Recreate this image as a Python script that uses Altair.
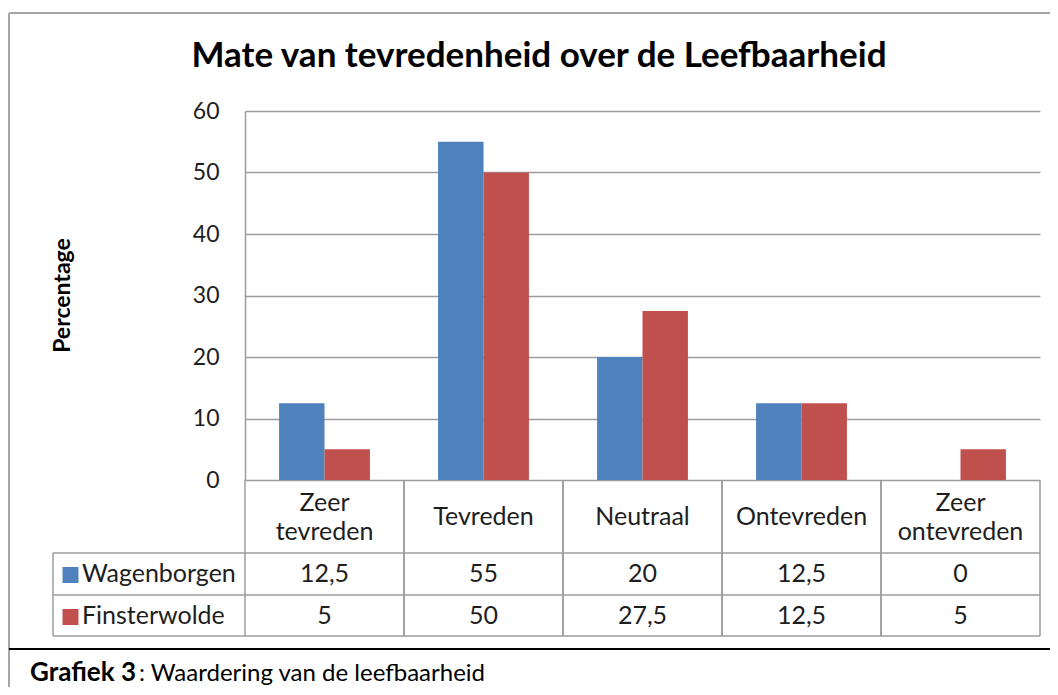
import altair as alt
import pandas as pd

# ---------------- data ----------------
categories = ["Zeer tevreden", "Tevreden", "Neutraal", "Ontevreden", "Zeer ontevreden"]
category_labels = ["Zeer\ntevreden", "Tevreden", "Neutraal", "Ontevreden", "Zeer\nontevreden"]
series = ["Wagenborgen", "Finsterwolde"]
wagenborgen = [12.5, 55, 20, 12.5, 0]
finsterwolde = [5, 50, 27.5, 12.5, 5]
colors = ["#4F81BD", "#C0504D"]
y_ticks = [0, 10, 20, 30, 40, 50, 60]

title_text = "Mate van tevredenheid over de Leefbaarheid"
y_title = "Percentage"
caption_bold = "Grafiek 3"
caption_rest = ": Waardering van de leefbaarheid"

# ---------------- layout (pixels, relative to plot origin) ----------------
W, H = 795, 369
FONT = "Lato"
GRID = "#9C9C9C"
TXT = "#1e1e1e"
TFS = 25                      # table font size
ROW_TOP = [442, 484]          # top of each series row
ROW_Y = [463, 505]            # centers of the series rows
TABLE_BOTTOM = 525
LEG_LEFT = -192
CAT_Y = 406
LINE_H = 29

values_by_series = {"Wagenborgen": wagenborgen, "Finsterwolde": finsterwolde}
rows = []
for s in series:
    for c, v in zip(categories, values_by_series[s]):
        rows.append({"cat": c, "series": s, "value": v})
df = pd.DataFrame(rows)
df_cat = pd.DataFrame({"cat": categories, "label": category_labels})
df_cat["two"] = df_cat["label"].str.contains("\n")

x_scale = alt.Scale(domain=categories, paddingInner=0, paddingOuter=0)
color_enc = alt.Color("series:N", scale=alt.Scale(domain=series, range=colors), legend=None)


def xenc(band=0.5):
    return alt.X("cat:N", sort=categories, scale=x_scale, axis=None, bandPosition=band)


bars = alt.Chart(df).mark_bar(stroke=None).encode(
    x=alt.X("cat:N", sort=categories, scale=x_scale, axis=None),
    xOffset=alt.XOffset("series:N", sort=series,
                        scale=alt.Scale(domain=series, paddingOuter=0.75, paddingInner=0)),
    y=alt.Y("value:Q", scale=alt.Scale(domain=[0, 60], nice=False),
            axis=alt.Axis(values=y_ticks, grid=True, gridColor=GRID, gridWidth=1.5,
                          ticks=False, domainColor=GRID, domainWidth=1.5,
                          labelFont=FONT, labelFontSize=23, labelColor=TXT, labelPadding=26,
                          title=y_title, titleFont=FONT, titleFontSize=23, titleFontWeight="bold",
                          titleColor="#000", titleX=-183, titleY=184, titleAngle=270,
                          titleAlign="center", titleBaseline="middle")),
    color=color_enc,
)

layers = [bars]
one = pd.DataFrame({"k": [0]})

# table vertical separators (band edges)
layers.append(alt.Chart(df_cat).mark_rule(color=GRID, strokeWidth=1.5).encode(
    x=xenc(0), y=alt.value(H), y2=alt.value(TABLE_BOTTOM)))
layers.append(alt.Chart(df_cat).mark_rule(color=GRID, strokeWidth=1.5).encode(
    x=xenc(1), y=alt.value(H), y2=alt.value(TABLE_BOTTOM)))

# table horizontal lines
for yy in ROW_TOP + [TABLE_BOTTOM]:
    layers.append(alt.Chart(one).mark_rule(color=GRID, strokeWidth=1.5).encode(
        x=alt.value(LEG_LEFT), x2=alt.value(W), y=alt.value(yy)))
layers.append(alt.Chart(one).mark_rule(color=GRID, strokeWidth=1.5).encode(
    x=alt.value(LEG_LEFT), y=alt.value(ROW_TOP[0]), y2=alt.value(TABLE_BOTTOM)))

# category labels (single-line and two-line centred in the row)
layers.append(alt.Chart(df_cat).transform_filter("!datum.two").mark_text(
    font=FONT, fontSize=TFS, color=TXT, baseline="middle", align="center").encode(
    x=xenc(), y=alt.value(CAT_Y), text="label:N"))
layers.append(alt.Chart(df_cat).transform_filter("datum.two").mark_text(
    font=FONT, fontSize=TFS, color=TXT, lineBreak="\n", lineHeight=LINE_H,
    baseline="middle", align="center").encode(
    x=xenc(), y=alt.value(CAT_Y - LINE_H / 2), text="label:N"))

# series rows
for i, s in enumerate(series):
    layers.append(alt.Chart(df).transform_filter(alt.datum.series == s).transform_calculate(
        lab="replace(toString(datum.value), '.', ',')"
    ).mark_text(font=FONT, fontSize=TFS, color=TXT, baseline="middle", align="center").encode(
        x=xenc(), y=alt.value(ROW_Y[i]), text="lab:N"))
    sdf = pd.DataFrame({"series": [s]})
    layers.append(alt.Chart(sdf).mark_square(size=256, opacity=1, filled=True).encode(
        x=alt.value(-174.5), y=alt.value(ROW_Y[i] + 1), color=color_enc))
    layers.append(alt.Chart(sdf).mark_text(font=FONT, fontSize=TFS, color=TXT, baseline="middle",
                                           align="left").encode(
        x=alt.value(-163), y=alt.value(ROW_Y[i]), text="series:N"))

# chart title
layers.append(alt.Chart(pd.DataFrame({"t": [title_text]})).mark_text(
    font=FONT, fontSize=35, fontWeight="bold", color="#000", align="center", baseline="alphabetic"
).encode(x=alt.value(294), y=alt.value(-44), text="t:N"))

# frame
layers.append(alt.Chart(one).mark_rule(color="#A6A6A6", strokeWidth=2).encode(
    x=alt.value(-236), x2=alt.value(810), y=alt.value(-98)))
layers.append(alt.Chart(one).mark_rule(color="#A6A6A6", strokeWidth=2).encode(
    x=alt.value(-236), y=alt.value(-98), y2=alt.value(600)))
layers.append(alt.Chart(one).mark_rule(color="#000", strokeWidth=2).encode(
    x=alt.value(-236), x2=alt.value(810), y=alt.value(538)))

# caption
layers.append(alt.Chart(pd.DataFrame({"t": [caption_bold]})).mark_text(
    font=FONT, fontSize=26, fontWeight="bold", color="#000", align="left", baseline="alphabetic"
).encode(x=alt.value(-215), y=alt.value(570), text="t:N"))
layers.append(alt.Chart(pd.DataFrame({"t": [caption_rest]})).mark_text(
    font=FONT, fontSize=24, color="#000", align="left", baseline="alphabetic"
).encode(x=alt.value(-106), y=alt.value(570), text="t:N"))

chart = alt.layer(*layers).properties(
    width=W, height=H,
    autosize=alt.AutoSizeParams(type="none"),
    padding={"left": 237, "top": 103, "right": 10, "bottom": 207},
).configure_view(stroke=None)

chart.save("out.html", embed_options={"renderer": "svg", "actions": False})
